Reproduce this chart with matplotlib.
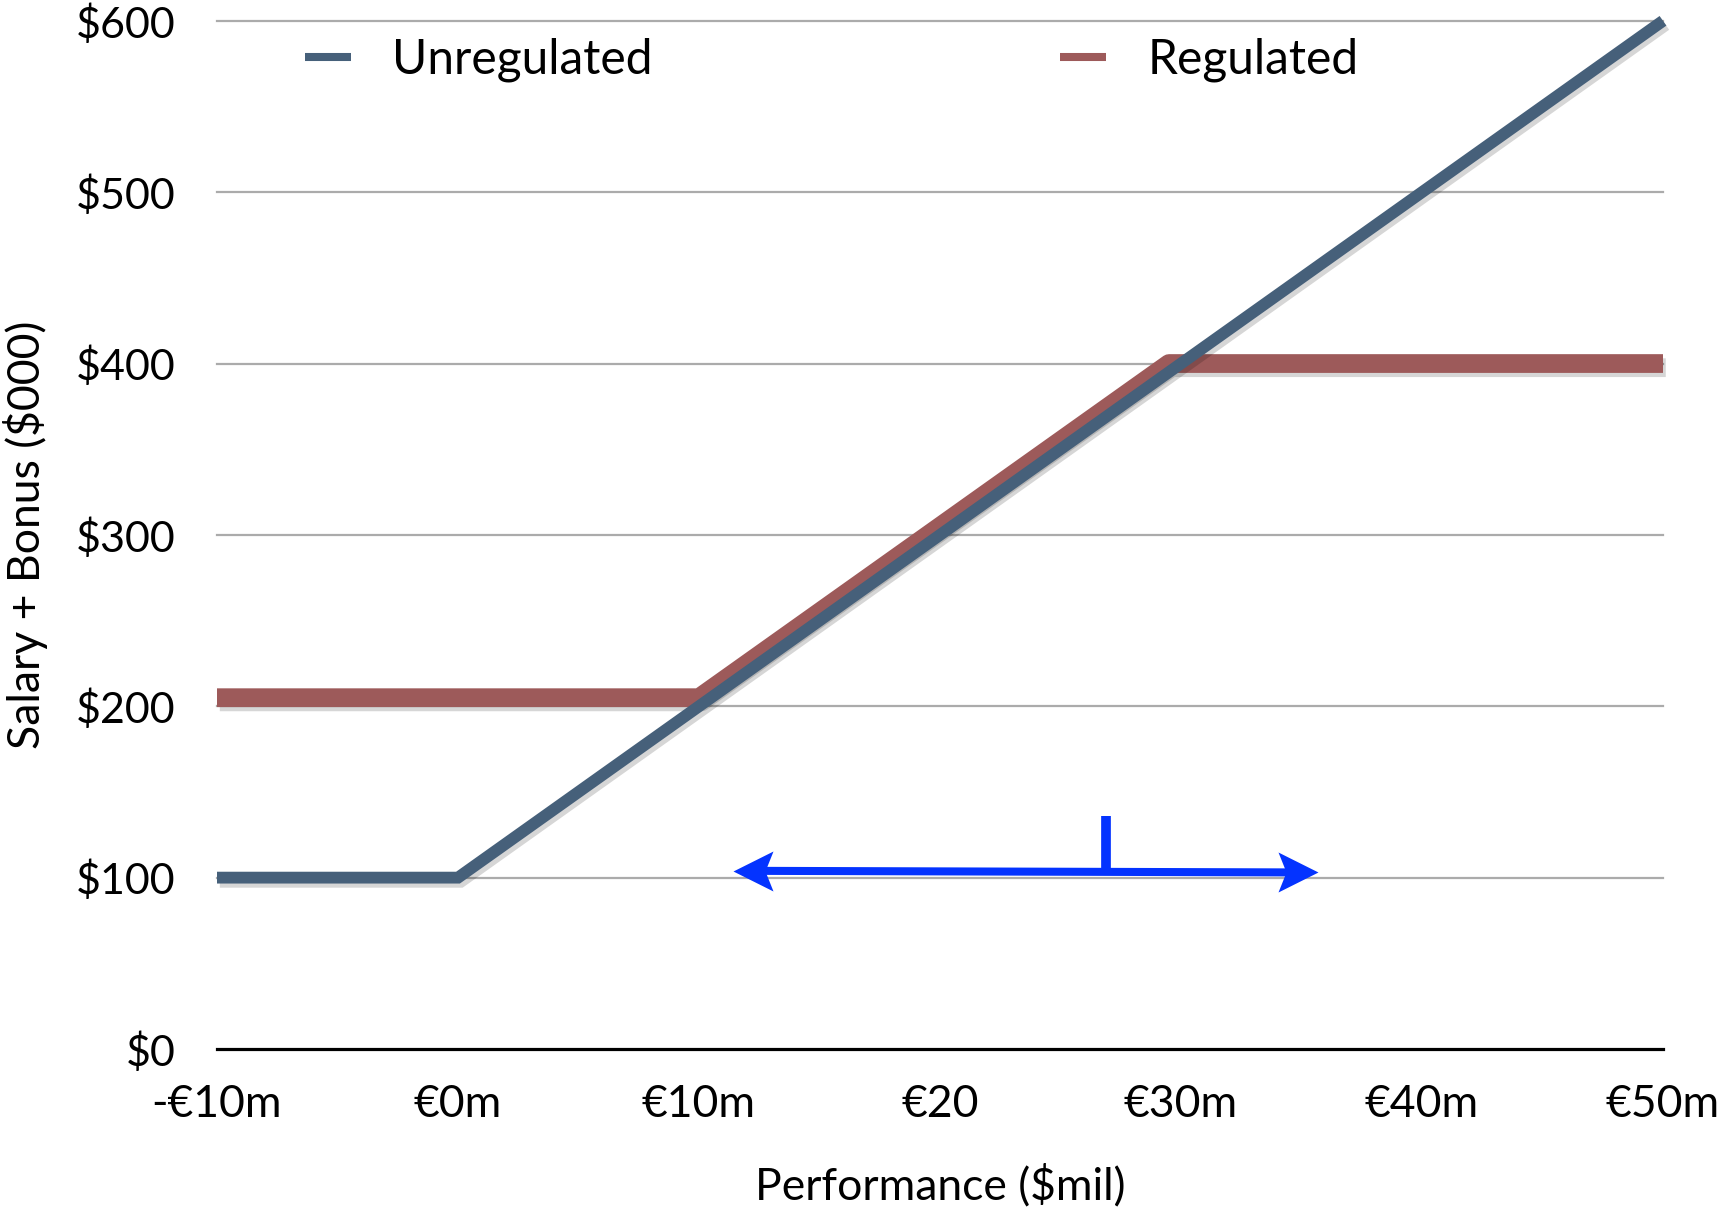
import matplotlib
matplotlib.use("Agg")
import matplotlib.pyplot as plt
import matplotlib.patheffects as pe
from matplotlib.path import Path
from matplotlib.patches import FancyArrowPatch

plt.rcParams['font.family'] = ['Lato', 'DejaVu Sans']

# Pay curves: performance (€m) -> salary + bonus ($000)
unreg_x = [-10, 0, 50]
unreg_y = [100, 100, 600]
reg_x = [-10, 10, 29.5, 50]
reg_y = [205, 205, 400, 400]

x_ticks = [-10, 0, 10, 20, 30, 40, 50]
x_tick_labels = ['-€10m', '€0m', '€10m', '€20', '€30m', '€40m', '€50m']
y_ticks = [0, 100, 200, 300, 400, 500, 600]
y_tick_labels = ['$0', '$100', '$200', '$300', '$400', '$500', '$600']

# Range marker: two-headed arrow with a short upright tick
arrow_x = [11.4, 35.7]
arrow_y = [104, 103]
tick_x = [26.9, 26.9]
tick_y = [103.5, 136]

W, H = 1719, 1214
fig = plt.figure(figsize=(W / 100, H / 100), dpi=100)
ax = fig.add_axes([217 / W, 1 - 1049 / H, (1663 - 217) / W, (1049 - 20.8) / H])
ax.set_xlim(-10, 50)
ax.set_ylim(0, 600)

for s in ax.spines.values():
    s.set_visible(False)

# horizontal guide lines
for v in y_ticks[1:]:
    ax.axhline(v, color='#ababab', lw=1.6, zorder=1, clip_on=False)
ax.axhline(0, color='black', lw=2.3, zorder=1, clip_on=False)

shadow = [pe.SimpleLineShadow(offset=(2, -3), shadow_color='black', alpha=0.16),
          pe.Normal()]

l_unreg, = ax.plot(unreg_x, unreg_y, color='#46607a', lw=8.5, zorder=4,
                   solid_capstyle='butt', solid_joinstyle='miter',
                   clip_on=False, path_effects=shadow, label='Unregulated')
l_reg, = ax.plot(reg_x, reg_y, color='#9d5a5a', lw=13.5, zorder=3,
                 solid_capstyle='butt', solid_joinstyle='round',
                 clip_on=False, path_effects=shadow, label='Regulated')

# arrow shaft and tick
blue = '#0433ff'
shaft = FancyArrowPatch((arrow_x[0], arrow_y[0]), (arrow_x[1], arrow_y[1]),
                        arrowstyle='-', shrinkA=20, shrinkB=20, lw=5.8,
                        color=blue, zorder=5, capstyle='butt')
ax.add_patch(shaft)
ax.plot(tick_x, tick_y, color=blue, lw=7, solid_capstyle='butt', zorder=5)

head_r = Path([(0, 0), (-40, 20), (-32, 0), (-40, -20), (0, 0)],
              [Path.MOVETO, Path.LINETO, Path.LINETO, Path.LINETO, Path.CLOSEPOLY])
head_l = Path([(0, 0), (40, 20), (32, 0), (40, -20), (0, 0)],
              [Path.MOVETO, Path.LINETO, Path.LINETO, Path.LINETO, Path.CLOSEPOLY])
ax.plot([arrow_x[0]], [arrow_y[0]], linestyle='none', marker=head_l,
        markersize=57.6, color=blue, markeredgewidth=0, zorder=6)
ax.plot([arrow_x[1]], [arrow_y[1]], linestyle='none', marker=head_r,
        markersize=57.6, color=blue, markeredgewidth=0, zorder=6)

ax.set_xticks(x_ticks)
ax.set_xticklabels(x_tick_labels)
ax.set_yticks(y_ticks)
ax.set_yticklabels(y_tick_labels)
ax.tick_params(axis='both', length=0)
ax.tick_params(axis='y', pad=30, labelsize=31)
ax.tick_params(axis='x', pad=25, labelsize=32)

ax.set_xlabel('Performance ($mil)', fontsize=32)
ax.xaxis.set_label_coords(0.5, -0.112)
ax.set_ylabel('Salary + Bonus ($000)', fontsize=32)
ax.yaxis.label.set_va('center')
ax.yaxis.set_label_coords(-0.1325, 0.5)

leg = fig.legend(handles=[l_unreg, l_reg], loc='center left',
                 bbox_to_anchor=(305 / W, 1 - 60 / H), ncol=2, frameon=False,
                 fontsize=34.5, borderpad=0, borderaxespad=0,
                 handlelength=0.96, handletextpad=0.86, columnspacing=8.5)
for h in leg.get_lines():
    h.set_linewidth(5.8)
    h.set_path_effects([])

fig.savefig('out.png', dpi=100)
